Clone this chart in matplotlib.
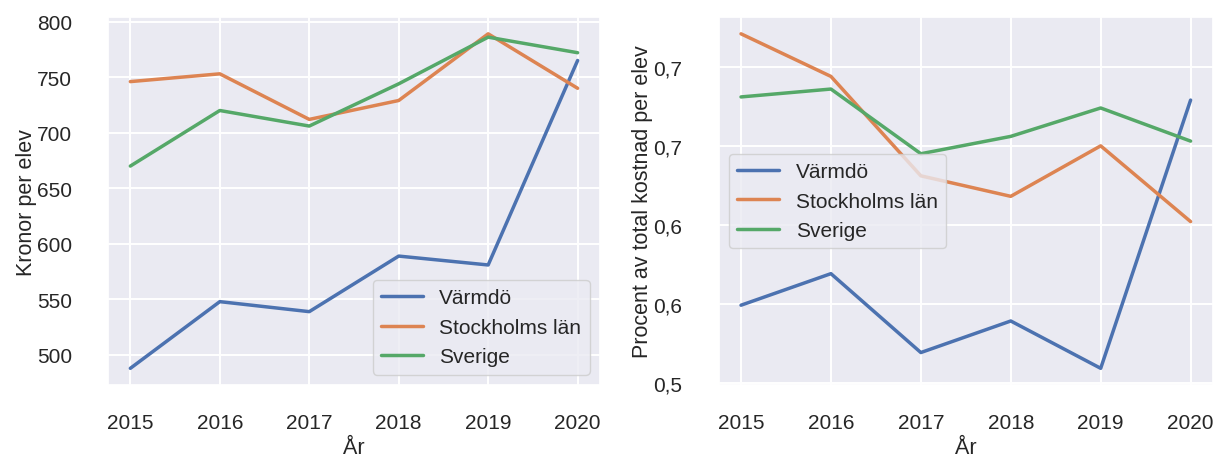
import matplotlib
matplotlib.use("Agg")
import matplotlib.pyplot as plt
import seaborn as sns

# Data
years = [2015, 2016, 2017, 2018, 2019, 2020]
series_names = ["Värmdö", "Stockholms län", "Sverige"]

kronor_varmdo = [488, 548, 539, 589, 581, 765]
kronor_sthlm = [746, 753, 712, 729, 789, 740]
kronor_sverige = [670, 720, 706, 744, 786, 772]

andel_varmdo = [0.549, 0.569, 0.519, 0.539, 0.509, 0.679]
andel_sthlm = [0.721, 0.694, 0.631, 0.618, 0.650, 0.602]
andel_sverige = [0.681, 0.686, 0.645, 0.656, 0.674, 0.653]

right_ticks = [0.50, 0.55, 0.60, 0.65, 0.70]
right_tick_labels = ["0,5", "0,6", "0,6", "0,7", "0,7"]

sns.set_theme(style="darkgrid", rc={"grid.linewidth": 1.4})
plt.rcParams["font.family"] = ["Liberation Sans", "DejaVu Sans"]

fs_tick = 15
fs_label = 15.5
lw = 2.5

fig = plt.figure(figsize=(12.16, 4.64), dpi=100)
ax1 = fig.add_axes([0.0888, 0.168, 0.4046, 0.793])
ax2 = fig.add_axes([0.5909, 0.168, 0.4067, 0.793])

palette = sns.color_palette()

for vals, name, c in zip([kronor_varmdo, kronor_sthlm, kronor_sverige],
                         series_names, palette):
    ax1.plot(years, vals, color=c, lw=lw, label=name)
ax1.set_xlabel("År", fontsize=fs_label)
ax1.set_ylabel("Kronor per elev", fontsize=fs_label, labelpad=0)
ax1.tick_params(labelsize=fs_tick)
ax1.tick_params(axis="x", pad=14)
ax1.tick_params(axis="y", pad=20)
ax1.legend(loc="lower right", fontsize=fs_tick)

for vals, name, c in zip([andel_varmdo, andel_sthlm, andel_sverige],
                         series_names, palette):
    ax2.plot(years, vals, color=c, lw=lw, label=name)
ax2.set_yticks(right_ticks)
ax2.set_yticklabels(right_tick_labels)
ax2.set_xlabel("År", fontsize=fs_label)
ax2.set_ylabel("Procent av total kostnad per elev", fontsize=fs_label, labelpad=0)
ax2.tick_params(labelsize=fs_tick)
ax2.tick_params(axis="x", pad=14)
ax2.tick_params(axis="y", pad=20)
ax2.legend(loc="center left", fontsize=fs_tick)

fig.savefig("out.png", dpi=100)
